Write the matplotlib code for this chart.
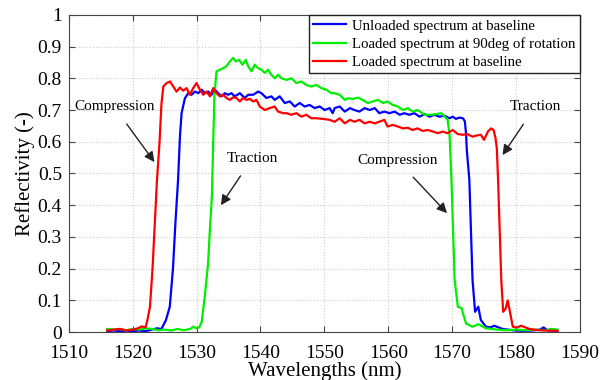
import matplotlib

matplotlib.use("Agg")
import matplotlib.pyplot as plt
from matplotlib.ticker import FormatStrFormatter, MultipleLocator

plt.rcParams["font.family"] = ["Liberation Serif", "DejaVu Serif"]

# unloaded grating, reference position
wl_blue = [1516.0, 1517.0, 1518.0, 1519.0, 1520.0, 1521.0, 1522.0, 1523.0, 1523.8, 1524.5,
           1525.2, 1525.8, 1526.3, 1526.7, 1527.1, 1527.4, 1527.65, 1528.17, 1528.69, 1529.21,
           1529.73, 1530.26, 1530.78, 1531.30, 1531.82, 1532.34, 1532.86, 1533.38, 1533.90, 1534.42,
           1534.94, 1535.46, 1535.98, 1536.77, 1537.55, 1538.07, 1538.85, 1539.63, 1540.15, 1540.93,
           1541.71, 1542.23, 1543.02, 1543.80, 1544.58, 1545.36, 1546.14, 1546.92, 1547.70, 1548.48,
           1549.27, 1550.05, 1550.83, 1551.3, 1551.6, 1552.4, 1553.2, 1554.0, 1554.7, 1555.5,
           1556.3, 1557.1, 1557.9, 1558.6, 1559.4, 1560.2, 1561.0, 1561.8, 1562.5, 1563.3,
           1564.1, 1564.9, 1565.7, 1566.5, 1567.2, 1568.0, 1568.8, 1569.6, 1570.1, 1570.6,
           1571.1, 1571.7, 1572.0, 1572.2, 1572.3, 1572.7, 1573.2, 1573.6, 1574.1, 1574.5,
           1575.3, 1576.0, 1576.6, 1577.9, 1579.5, 1581.0, 1582.5, 1583.8, 1584.3, 1585.0,
           1586.5]
r_blue = [0.003, 0.005, 0.003, 0.005, 0.003, 0.005, 0.003, 0.008, 0.012, 0.010,
          0.038, 0.080, 0.200, 0.350, 0.480, 0.620, 0.690, 0.737, 0.753, 0.748,
          0.758, 0.753, 0.764, 0.753, 0.758, 0.748, 0.764, 0.753, 0.743, 0.753,
          0.748, 0.753, 0.743, 0.753, 0.738, 0.748, 0.748, 0.758, 0.753, 0.738,
          0.743, 0.732, 0.743, 0.722, 0.727, 0.711, 0.722, 0.711, 0.716, 0.706,
          0.711, 0.700, 0.706, 0.690, 0.706, 0.711, 0.695, 0.706, 0.700, 0.695,
          0.706, 0.700, 0.706, 0.690, 0.695, 0.690, 0.695, 0.685, 0.690, 0.685,
          0.690, 0.679, 0.687, 0.679, 0.685, 0.679, 0.682, 0.674, 0.679, 0.672,
          0.676, 0.674, 0.664, 0.622, 0.575, 0.480, 0.164, 0.064, 0.080, 0.038,
          0.017, 0.015, 0.020, 0.010, 0.006, 0.004, 0.005, 0.008, 0.015, 0.005,
          0.004]

# loaded grating after 90 deg rotation
wl_green = [1516.0, 1517.0, 1518.0, 1519.0, 1520.0, 1521.0, 1522.0, 1523.0, 1524.0, 1525.0,
            1526.0, 1527.0, 1528.0, 1529.0, 1529.5, 1530.0, 1530.4, 1530.8, 1531.3, 1531.8,
            1532.1, 1532.4, 1532.6, 1532.8, 1533.12, 1533.64, 1534.16, 1534.68, 1535.20, 1535.72,
            1536.14, 1536.66, 1537.18, 1537.70, 1538.07, 1538.59, 1539.11, 1539.63, 1540.15, 1540.67,
            1541.19, 1541.71, 1542.23, 1542.76, 1543.28, 1544.06, 1544.84, 1545.62, 1546.40, 1547.18,
            1547.96, 1548.75, 1549.53, 1550.31, 1551.09, 1551.6, 1552.4, 1553.2, 1553.7, 1554.5,
            1555.3, 1556.0, 1556.8, 1557.6, 1558.4, 1559.2, 1559.9, 1560.7, 1561.5, 1562.3,
            1563.1, 1563.8, 1564.6, 1565.7, 1566.7, 1567.5, 1568.3, 1568.8, 1569.3, 1569.6,
            1569.7, 1569.9, 1570.4, 1570.9, 1571.5, 1571.7, 1572.2, 1573.2, 1574.1, 1575.3,
            1577.0, 1578.5, 1580.0, 1581.5, 1583.0, 1584.5, 1585.5, 1586.5]
r_green = [0.010, 0.008, 0.010, 0.006, 0.010, 0.008, 0.012, 0.010, 0.006, 0.008,
           0.005, 0.010, 0.006, 0.010, 0.017, 0.012, 0.015, 0.032, 0.117, 0.217,
           0.330, 0.430, 0.600, 0.750, 0.822, 0.827, 0.832, 0.838, 0.853, 0.864,
           0.853, 0.858, 0.843, 0.858, 0.838, 0.822, 0.843, 0.832, 0.827, 0.817,
           0.827, 0.811, 0.800, 0.811, 0.800, 0.795, 0.800, 0.785, 0.790, 0.779,
           0.774, 0.779, 0.769, 0.764, 0.753, 0.753, 0.748, 0.732, 0.737, 0.735,
           0.739, 0.732, 0.722, 0.727, 0.732, 0.722, 0.727, 0.716, 0.711, 0.700,
           0.706, 0.695, 0.700, 0.685, 0.685, 0.687, 0.690, 0.680, 0.669, 0.622,
           0.575, 0.480, 0.164, 0.080, 0.075, 0.059, 0.027, 0.017, 0.025, 0.012,
           0.008, 0.006, 0.008, 0.006, 0.008, 0.006, 0.010, 0.008]

# loaded grating, reference position
wl_red = [1516.0, 1517.0, 1518.0, 1519.0, 1520.0, 1520.8, 1521.4, 1522.0, 1522.3, 1522.7,
          1523.1, 1523.5, 1523.8, 1524.2, 1524.5, 1524.79, 1525.31, 1525.83, 1526.35, 1526.87,
          1527.39, 1527.91, 1528.43, 1528.95, 1529.47, 1529.99, 1530.52, 1531.04, 1531.56, 1532.08,
          1532.60, 1533.12, 1533.64, 1534.16, 1534.68, 1535.20, 1535.72, 1536.24, 1536.77, 1537.29,
          1537.81, 1538.33, 1538.85, 1539.37, 1539.89, 1540.67, 1541.45, 1542.23, 1542.76, 1543.54,
          1544.06, 1544.84, 1545.62, 1546.40, 1547.18, 1547.96, 1548.75, 1549.79, 1550.83, 1551.61,
          1552.4, 1553.2, 1554.0, 1554.7, 1555.5, 1556.3, 1557.1, 1557.9, 1558.6, 1559.4,
          1559.9, 1560.7, 1561.5, 1562.3, 1563.1, 1563.8, 1564.6, 1565.4, 1566.2, 1567.0,
          1567.8, 1568.5, 1569.3, 1570.1, 1570.9, 1571.7, 1572.4, 1573.2, 1573.7, 1574.5,
          1575.0, 1575.6, 1576.1, 1576.5, 1576.8, 1577.0, 1577.2, 1577.7, 1578.0, 1578.4,
          1578.7, 1579.1, 1579.5, 1580.2, 1580.8, 1582.1, 1583.5, 1585.0, 1586.5]
r_red = [0.005, 0.008, 0.010, 0.005, 0.008, 0.012, 0.018, 0.015, 0.038, 0.080,
         0.200, 0.360, 0.480, 0.600, 0.720, 0.774, 0.785, 0.790, 0.774, 0.758,
         0.771, 0.761, 0.769, 0.748, 0.769, 0.785, 0.764, 0.748, 0.758, 0.743,
         0.769, 0.753, 0.743, 0.748, 0.738, 0.732, 0.740, 0.738, 0.727, 0.738,
         0.732, 0.735, 0.727, 0.732, 0.711, 0.700, 0.706, 0.711, 0.695, 0.690,
         0.690, 0.685, 0.690, 0.679, 0.685, 0.674, 0.674, 0.672, 0.669, 0.663,
         0.674, 0.658, 0.669, 0.663, 0.669, 0.658, 0.663, 0.658, 0.663, 0.669,
         0.648, 0.653, 0.648, 0.642, 0.644, 0.637, 0.642, 0.634, 0.637, 0.632,
         0.627, 0.632, 0.627, 0.637, 0.624, 0.622, 0.624, 0.616, 0.619, 0.622,
         0.606, 0.632, 0.642, 0.637, 0.611, 0.580, 0.480, 0.164, 0.064, 0.075,
         0.100, 0.060, 0.017, 0.015, 0.020, 0.010, 0.006, 0.005, 0.004]

series = [
    (wl_blue, r_blue, "#0000ff", "Unloaded spectrum at baseline"),
    (wl_green, r_green, "#00ee00", "Loaded spectrum at 90deg of rotation"),
    (wl_red, r_red, "#ff0000", "Loaded spectrum at baseline"),
]

# (label, text position, arrow head)
notes = [
    ("Compression", (1517.1, 0.71), (1523.4, 0.536)),
    ("Traction", (1538.7, 0.547), (1533.8, 0.40)),
    ("Compression", (1561.5, 0.54), (1569.2, 0.375)),
    ("Traction", (1583.0, 0.71), (1577.9, 0.558)),
]

fig = plt.figure(figsize=(6.04, 3.8), dpi=100)
ax = fig.add_axes([0.114, 0.126, 0.846, 0.835])

for wl, r, color, label in series:
    ax.plot(wl, r, color=color, linewidth=1.6, label=label)

for text, xy_text, xy_head in notes:
    ax.annotate(
        text, xy=xy_head, xytext=xy_text, fontsize=11, ha="center", va="center",
        arrowprops=dict(arrowstyle="-|>", color="#222222", lw=1.0, mutation_scale=15,
                        shrinkA=7, shrinkB=0),
    )

ax.set_xlim(1510, 1590)
ax.set_ylim(0, 1)
ax.xaxis.set_major_locator(MultipleLocator(10))
ax.yaxis.set_major_locator(MultipleLocator(0.1))
ax.yaxis.set_major_formatter(FormatStrFormatter("%g"))
ax.tick_params(direction="in", top=True, right=True, labelsize=14, length=4,
               color="#444444")
ax.tick_params(axis="x", pad=9)
ax.tick_params(axis="y", pad=5)
ax.grid(True, color="#cccccc", linestyle=":", linewidth=0.8)
for spine in ax.spines.values():
    spine.set_color("#444444")

ax.set_xlabel("Wavelengths (nm)", fontsize=15, labelpad=0)
ax.set_ylabel("Reflectivity (-)", fontsize=15, labelpad=2)

leg = ax.legend(loc="upper right", fontsize=10.7, borderaxespad=0, fancybox=False,
                framealpha=1, edgecolor="#222222", handlelength=2.2,
                borderpad=0.3, labelspacing=0.3, handletextpad=0.4)
leg.get_frame().set_linewidth(1.0)

fig.savefig("out.png", dpi=100)
